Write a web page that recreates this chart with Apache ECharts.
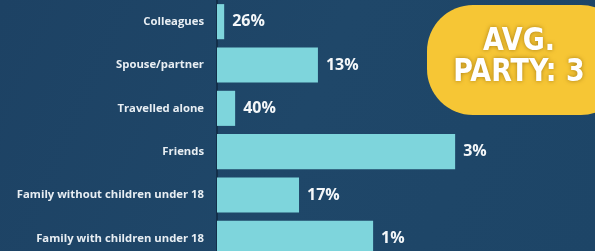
<!DOCTYPE html>
<html>
<head>
<meta charset="utf-8">
<script src="https://cdn.jsdelivr.net/npm/echarts@6/dist/echarts.min.js"></script>
<style>
  html, body { margin: 0; padding: 0; background: #1e4467; overflow: hidden; }
  #chart { width: 595px; height: 260px; }
</style>
</head>
<body>
<div id="chart"></div>
<script>
var categories = ['Colleagues', 'Spouse/partner', 'Travelled alone', 'Friends', 'Family without children under 18', 'Family with children under 18']
var barValues = [1.9, 26.7, 4.8, 63, 21.7, 41.3]
var labelTexts = ['26%', '13%', '40%', '3%', '17%', '1%']
var badgeLines = ['AVG.', 'PARTY: 3']

var chart = echarts.init(document.getElementById('chart'))
chart.setOption({
  backgroundColor: {
    type: 'linear', x: 0, y: 0, x2: 1, y2: 1,
    colorStops: [
      { offset: 0, color: '#1d4264' },
      { offset: 0.5, color: '#1f4769' },
      { offset: 1, color: '#1d4567' }
    ]
  },
  animation: false,
  grid: {
    left: 217,
    top: 0,
    bottom: 0,
    right: 0
  },
  xAxis: {
    type: 'value',
    min: 0,
    max: 100,
    show: false
  },
  yAxis: {
    type: 'category',
    data: categories,
    inverse: true,
    axisTick: { show: false },
    axisLine: { show: true, lineStyle: { color: '#132f4a', width: 2 } },
    axisLabel: {
      color: '#e8eef3',
      fontFamily: 'Open Sans',
      fontWeight: 'bold',
      fontSize: 11.3,
      margin: 13
    }
  },
  series: [
    {
      type: 'bar',
      data: barValues,
      barCategoryGap: '19%',
      itemStyle: { color: '#7ed5dc' },
      label: {
        show: true,
        position: 'right',
        distance: 8,
        color: '#f4f7f9',
        fontFamily: 'Open Sans',
        fontWeight: 'bold',
        fontSize: 16,
        formatter: function (p) { return labelTexts[p.dataIndex] }
      }
    }
  ],
  graphic: [
    {
      type: 'rect',
      shape: { x: 427, y: 5, width: 200, height: 110, r: 46 },
      style: { fill: '#f6c635' },
      z: 10
    },
    {
      type: 'text',
      x: 519,
      y: 57,
      scaleX: 0.88,
      scaleY: 0.96,
      z: 11,
      style: {
        text: badgeLines.join('\n'),
        fill: '#ffffff',
        font: 'bold 34px "Liberation Sans Narrow", "DejaVu Sans Condensed", sans-serif',
        lineHeight: 33,
        align: 'center',
        verticalAlign: 'middle',
        textShadowColor: 'rgba(120,80,0,0.6)',
        textShadowBlur: 4
      }
    }
  ]
})
</script>
</body>
</html>
